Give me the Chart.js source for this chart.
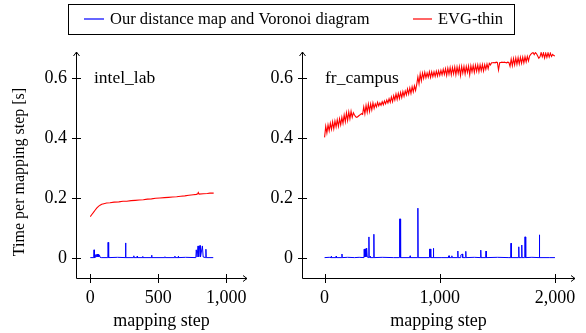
<!DOCTYPE html>
<html><head><meta charset="utf-8">
<script src="https://cdn.jsdelivr.net/npm/chart.js@4"></script>
<style>
html,body{margin:0;padding:0;background:#fff;}
#wrap{position:relative;width:586px;height:333px;overflow:hidden;}
#cl{position:absolute;left:0;top:0;}
#cr{position:absolute;left:260px;top:0;}
#lg{position:absolute;left:0;top:0;}
</style></head>
<body>
<div id="wrap">
<canvas id="cl" width="260" height="333"></canvas>
<canvas id="cr" width="326" height="333"></canvas>
<canvas id="lg" width="586" height="40"></canvas>
</div>
<script>
const legendLabels = ["Our distance map and Voronoi diagram", "EVG-thin"];
const seriesColors = ["#0000ff", "#ff0000"];
const panelTitles = ["intel_lab", "fr_campus"];
const xAxisTitle = "mapping step";
const yAxisTitle = "Time per mapping step [s]";
const yTicks = [0, 0.2, 0.4, 0.6];
const intelXTicks = [0, 500, 1000];
const campusXTicks = [0, 1000, 2000];

// intel_lab: [mapping step, time in s]
const intelEvg = [[0,0.139],[10,0.145],[22,0.152],[35,0.16],[47,0.167],[60,0.173],[72,0.177],[84,0.18],[100,0.182],[120,0.184],[145,0.185],[175,0.187],[210,0.188],[240,0.19],[268,0.19],[300,0.192],[330,0.193],[360,0.194],[390,0.195],[420,0.197],[450,0.198],[480,0.2],[512,0.201],[545,0.202],[575,0.203],[605,0.204],[635,0.205],[665,0.207],[695,0.208],[725,0.21],[757,0.212],[780,0.213],[790,0.215],[794,0.219],[800,0.214],[831,0.215],[860,0.216],[880,0.217],[907,0.217]];
const intelOurs = [[0,0.002],[26,0.002],[28,0.028],[30,0.002],[38,0.003],[40,0.012],[43,0.004],[50,0.014],[54,0.005],[58,0.013],[62,0.004],[68,0.01],[72,0.003],[80,0.002],[129,0.002],[131,0.053],[134,0.053],[136,0.002],[200,0.003],[257,0.002],[259,0.051],[262,0.002],[318,0.002],[320,0.008],[322,0.002],[343,0.002],[345,0.007],[347,0.002],[383,0.002],[385,0.006],[387,0.002],[449,0.002],[451,0.01],[453,0.002],[547,0.002],[549,0.005],[551,0.002],[620,0.002],[622,0.007],[624,0.002],[645,0.002],[647,0.007],[649,0.002],[700,0.003],[776,0.002],[779,0.028],[783,0.028],[785,0.004],[792,0.041],[796,0.041],[798,0.005],[804,0.042],[808,0.042],[810,0.004],[824,0.041],[828,0.041],[830,0.004],[848,0.002],[850,0.03],[852,0.002],[904,0.002]];

// fr_campus: EVG-thin time sampled every campusEvgStride mapping steps (0..2000)
const campusEvgStride = 10;
const campusEvg = [
0.403,0.44,0.418,0.445,0.425,0.45,0.43,0.455,0.432,0.458,0.438,
0.462,0.44,0.465,0.445,0.47,0.45,0.478,0.455,0.485,0.46,
0.488,0.465,0.49,0.47,0.485,
0.478,0.472,0.47,0.473,0.476,0.479,0.482,0.48,
0.505,0.482,0.51,0.487,0.514,0.49,0.515,
0.495,0.518,0.5,0.515,0.505,0.52,0.508,0.518,0.51,0.522,
0.512,0.525,0.515,0.528,0.518,0.532,0.52,0.538,0.522,0.542,
0.528,0.548,0.53,0.55,0.533,0.553,0.536,0.556,0.54,0.558,
0.545,0.565,0.548,0.568,0.55,0.572,0.555,0.575,0.56,0.58,
0.605,0.582,0.615,0.592,0.618,0.6,0.62,0.602,0.618,0.604,
0.622,0.603,0.622,0.606,0.622,0.607,0.624,0.608,0.625,0.61,
0.627,0.612,0.63,0.613,0.632,0.61,0.634,0.614,0.636,0.612,
0.636,0.615,0.638,0.612,0.638,0.617,0.639,0.61,0.64,0.618,
0.64,0.615,0.64,0.62,0.641,0.612,0.642,0.622,0.643,0.62,
0.644,0.624,0.645,0.622,0.645,0.626,0.646,0.625,0.646,0.63,
0.648,0.632,0.65,0.645,0.652,0.652,0.653,0.652,0.654,0.653,
0.628,0.652,0.653,0.654,0.653,0.654,0.653,0.652,0.654,0.653,
0.64,0.664,0.642,0.666,0.645,0.668,0.647,0.669,0.648,0.67,
0.65,0.671,0.652,0.672,0.655,0.673,0.658,0.675,0.68,0.684,
0.686,0.679,0.686,0.682,0.675,0.667,0.672,0.686,0.672,0.685,
0.668,0.684,0.67,0.685,0.671,0.684,0.673,0.68,0.676,0.675];
const campusOurs = [[0,0.002],[40,0.003],[56,0.002],[58,0.007],[60,0.002],[99,0.002],[101,0.007],[103,0.002],[149,0.002],[151,0.014],[153,0.002],[200,0.003],[260,0.002],[300,0.003],[342,0.002],[344,0.03],[346,0.004],[348,0.031],[350,0.004],[352,0.03],[354,0.005],[356,0.031],[358,0.005],[360,0.032],[362,0.005],[364,0.034],[366,0.005],[368,0.034],[370,0.004],[383,0.002],[385,0.071],[387,0.002],[396,0.006],[398,0.002],[426,0.002],[428,0.08],[430,0.002],[500,0.003],[600,0.002],[650,0.002],[651,0.131],[659,0.131],[660,0.002],[741,0.002],[743,0.008],[745,0.002],[808,0.002],[810,0.167],[812,0.002],[909,0.002],[911,0.031],[913,0.004],[917,0.031],[921,0.031],[923,0.002],[943,0.002],[945,0.033],[947,0.002],[1016,0.002],[1018,0.004],[1020,0.002],[1074,0.002],[1076,0.008],[1078,0.002],[1082,0.008],[1084,0.002],[1103,0.002],[1105,0.008],[1107,0.002],[1155,0.002],[1157,0.024],[1159,0.002],[1181,0.002],[1183,0.011],[1187,0.012],[1193,0.014],[1197,0.014],[1199,0.002],[1224,0.002],[1226,0.023],[1228,0.002],[1300,0.003],[1354,0.002],[1356,0.027],[1358,0.002],[1400,0.002],[1402,0.024],[1404,0.002],[1500,0.003],[1600,0.002],[1617,0.002],[1619,0.05],[1621,0.002],[1684,0.002],[1686,0.038],[1688,0.002],[1710,0.002],[1712,0.044],[1714,0.002],[1737,0.002],[1738,0.071],[1745,0.071],[1746,0.002],[1800,0.003],[1863,0.002],[1865,0.078],[1867,0.002],[1950,0.002],[2000,0.002]];

const FONT = "Liberation Serif";
Chart.defaults.color = "#000";
Chart.defaults.font.family = FONT;

// shared legend box
(function(){
  const c = document.getElementById('lg').getContext('2d');
  c.strokeStyle = '#000'; c.lineWidth = 1;
  c.strokeRect(68.5, 4.5, 446, 30);
  const sw = [[84, 104], [413, 432]], tx = [110, 438];
  c.font = '16.5px "' + FONT + '"';
  c.textBaseline = 'middle'; c.textAlign = 'left'; c.fillStyle = '#000';
  legendLabels.forEach((l, i) => {
    c.strokeStyle = seriesColors[i];
    c.lineWidth = 1.2;
    c.beginPath(); c.moveTo(sw[i][0], 19); c.lineTo(sw[i][1], 19); c.stroke();
    c.fillText(l, tx[i], 19.5);
  });
})();

const pts = arr => arr.map(p => ({x: p[0], y: p[1]}));
const stridePts = (vals, stride) => vals.map((v, i) => ({x: i * stride, y: v}));

function decor(title, titleDx, withYTitle) {
  return {
    id: 'decor',
    afterDraw(chart) {
      const {ctx, chartArea: a, scales} = chart;
      ctx.save();
      ctx.strokeStyle = '#000'; ctx.lineWidth = 1;
      const L = Math.round(a.left) + 0.5, B = Math.round(a.bottom) + 0.5;
      ctx.beginPath();
      ctx.moveTo(L, B); ctx.lineTo(L, a.top);
      ctx.moveTo(L, B); ctx.lineTo(a.right, B);
      ctx.moveTo(L - 3, a.top + 4); ctx.lineTo(L, a.top); ctx.lineTo(L + 3, a.top + 4);
      ctx.moveTo(a.right - 4, B - 3); ctx.lineTo(a.right, B); ctx.lineTo(a.right - 4, B + 3);
      scales.y.ticks.forEach(t => {
        const py = Math.round(scales.y.getPixelForValue(t.value)) + 0.5;
        ctx.moveTo(L - 4.5, py); ctx.lineTo(L + 4.5, py);
      });
      scales.x.ticks.forEach(t => {
        const px = Math.round(scales.x.getPixelForValue(t.value)) + 0.5;
        ctx.moveTo(px, B - 4.5); ctx.lineTo(px, B + 4.5);
      });
      ctx.stroke();
      ctx.fillStyle = '#000';
      ctx.font = '17.5px "' + FONT + '"';
      ctx.textBaseline = 'alphabetic'; ctx.textAlign = 'left';
      ctx.fillText(title, a.left + titleDx, 83);
      if (withYTitle) {
        ctx.translate(20, 172);
        ctx.rotate(-Math.PI / 2);
        ctx.textAlign = 'center'; ctx.textBaseline = 'middle';
        ctx.font = '16px "' + FONT + '"';
        ctx.fillText(yAxisTitle, 0, 0);
      }
      ctx.restore();
    }
  };
}

function makeChart(id, evgData, oursData, xMin, xMax, xTicks, yWidth, padRight, title, titleDx, withYTitle) {
  const fmt = v => v.toLocaleString('en-US');
  return new Chart(document.getElementById(id), {
    type: 'line',
    data: {
      datasets: [
        {label: legendLabels[0], data: oursData, borderColor: seriesColors[0], borderWidth: 1, pointRadius: 0, tension: 0},
        {label: legendLabels[1], data: evgData, borderColor: seriesColors[1], borderWidth: 1.1, pointRadius: 0, tension: 0}
      ]
    },
    options: {
      responsive: false, animation: false,
      layout: {padding: {top: 52, right: padRight, left: 0, bottom: 0}},
      plugins: {legend: {display: false}, tooltip: {enabled: false}},
      scales: {
        x: {
          type: 'linear', min: xMin, max: xMax,
          grid: {display: false, drawTicks: false}, border: {display: false},
          ticks: {font: {size: 18, family: FONT}, padding: 10, maxRotation: 0, callback: v => fmt(v)},
          title: {display: true, text: xAxisTitle, font: {size: 18, family: FONT}, padding: {top: 0, bottom: 1}},
          afterBuildTicks: s => { s.ticks = xTicks.map(v => ({value: v})); },
          afterFit: s => { s.height = 55.3; s.paddingLeft = s.paddingRight = 0; }
        },
        y: {
          type: 'linear', min: -0.065, max: 0.688,
          grid: {display: false, drawTicks: false}, border: {display: false},
          ticks: {font: {size: 18, family: FONT}, padding: 9, callback: v => String(v)},
          afterBuildTicks: s => { s.ticks = yTicks.map(v => ({value: v})); },
          afterFit: s => { s.width = yWidth; s.paddingTop = s.paddingBottom = 0; }
        }
      }
    },
    plugins: [decor(title, titleDx, withYTitle)]
  });
}

makeChart('cl', pts(intelEvg), pts(intelOurs), -105, 1152, intelXTicks, 76, 13, panelTitles[0], 18, true);
makeChart('cr', stridePts(campusEvg, campusEvgStride), pts(campusOurs), -196, 2174, campusXTicks, 42, 11, panelTitles[1], 23, false);
</script>
</body></html>
